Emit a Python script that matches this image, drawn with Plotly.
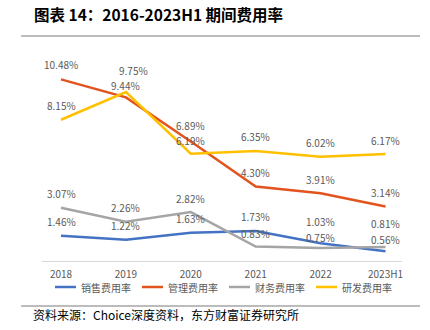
import plotly.graph_objects as go

years = ["2018", "2019", "2020", "2021", "2022", "2023H1"]
sales = [1.46, 1.22, 1.63, 1.73, 1.03, 0.56]
admin = [10.48, 9.44, 6.89, 4.30, 3.91, 3.14]
finance = [3.07, 2.26, 2.82, 0.83, 0.75, 0.81]
rnd = [8.15, 9.75, 6.19, 6.35, 6.02, 6.17]

names = ["销售费用率", "管理费用率", "财务费用率", "研发费用率"]
colors = ["#4472C4", "#E2531E", "#A5A5A5", "#FFC000"]
series = [sales, admin, finance, rnd]

# per-label pixel offsets (style only) to mimic reference label placement
yshifts = [
    [14, 14, 14, 15, 22, 12],
    [15, 12, 16, 14, 14, 14],
    [14, 14, 14, 13, 11, 23],
    [14, 22, 13, 14, 14, 14],
]
xshifts = [
    [0, 0, 0, 0, 0, 0],
    [0, 0, 0, 0, 0, 0],
    [0, 0, 0, 0, 0, 0],
    [0, 8, 0, 0, 0, 0],
]

# plot area geometry in pixels (for placing legend/title decorations)
L, T, W, H = 42, 53, 360, 208
def px_x(p):
    return (p - L) / W
def px_y(p):
    return (T + H - p) / H

fig = go.Figure()
annotations = []
shapes = []
for i, (nm, col, vals) in enumerate(zip(names, colors, series)):
    fig.add_trace(go.Scatter(
        x=years, y=vals, name=nm, mode="lines",
        line=dict(color=col, width=2.5), showlegend=False,
    ))
    for j, (yr, v) in enumerate(zip(years, vals)):
        annotations.append(dict(
            x=j, y=v, xref="x", yref="y", text=f"{v:.2f}%", showarrow=False,
            yshift=yshifts[i][j], xshift=xshifts[i][j],
            font=dict(size=10, color="#595959", family="Noto Sans CJK SC"),
        ))
    # manual legend entry
    x0 = 55 + 87 * i
    shapes.append(dict(type="line", xref="paper", yref="paper",
                       x0=px_x(x0), x1=px_x(x0 + 21), y0=px_y(287), y1=px_y(287),
                       line=dict(color=col, width=2.5)))
    annotations.append(dict(text=nm, xref="paper", yref="paper",
                            x=px_x(x0 + 24), y=px_y(287), xanchor="left", yanchor="middle",
                            showarrow=False,
                            font=dict(size=10, color="#595959", family="Noto Sans CJK SC")))

annotations += [
    dict(text="<b>图表 14：2016-2023H1 期间费用率</b>", xref="paper", yref="paper",
         x=-0.028, y=1.1875, xanchor="left", yanchor="middle", showarrow=False,
         font=dict(size=15.5, color="#000000", family="Noto Sans CJK SC")),
    dict(text="资料来源：Choice深度资料，东方财富证券研究所", xref="paper", yref="paper",
         x=-0.03, y=-0.255, xanchor="left", yanchor="middle", showarrow=False,
         font=dict(size=12, color="#000000", family="Noto Sans CJK SC")),
]
shapes += [
    dict(type="line", xref="paper", yref="paper", x0=-0.058, x1=1.05, y0=1.0817, y1=1.0817,
         line=dict(color="#A6A6A6", width=1.5)),
    dict(type="line", xref="paper", yref="paper", x0=-0.058, x1=1.05, y0=-0.216, y1=-0.216,
         line=dict(color="#A6A6A6", width=1.5)),
]

fig.update_layout(
    width=430, height=330,
    margin=dict(l=L, r=430 - L - W, t=T, b=330 - T - H),
    paper_bgcolor="white", plot_bgcolor="white",
    font=dict(family="Noto Sans CJK SC", color="#595959"),
    xaxis=dict(type="category", showgrid=False, showline=True, linecolor="#D9D9D9", linewidth=1,
               ticks="", tickfont=dict(size=10, color="#595959"),
               ticklabelstandoff=4, fixedrange=True),
    yaxis=dict(range=[0, 12], visible=False, fixedrange=True),
    showlegend=False,
    annotations=annotations,
    shapes=shapes,
)

fig.write_html("out.html")
